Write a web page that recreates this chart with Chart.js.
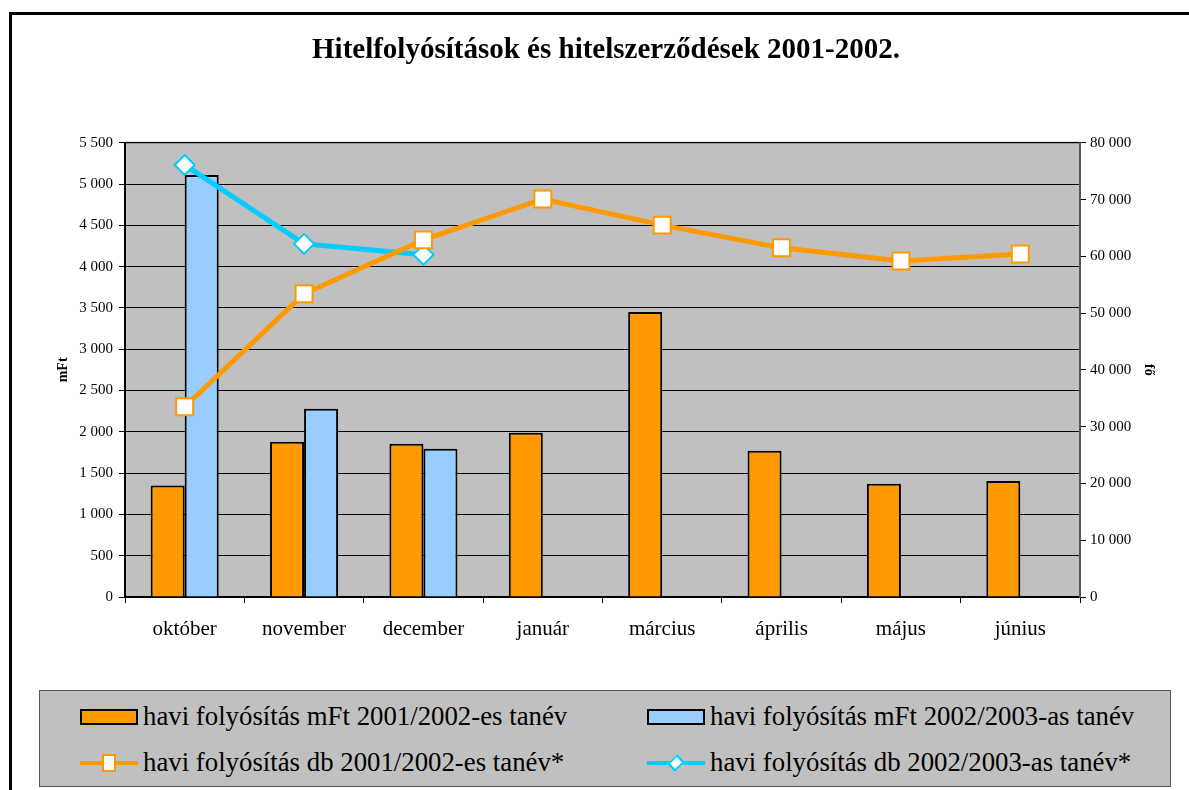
<!DOCTYPE html>
<html>
<head>
<meta charset="utf-8">
<script src="https://cdn.jsdelivr.net/npm/chart.js@4.4.0/dist/chart.umd.min.js"></script>
<style>
  body { margin: 0; background: #fff; overflow: hidden; }
  #wrap { position: relative; width: 1189px; height: 790px; overflow: hidden; }
  #frame { position: absolute; left: 9px; top: 12px; width: 1300px; height: 900px;
           border-left: 3px solid #000; border-top: 3px solid #000; }
  canvas { position: absolute; left: 0; top: 0; }
  #legend { position: absolute; left: 39px; top: 690px; width: 1130px; height: 95px;
            background: #c0c0c0; border: 1px solid #555;
            font-family: "Liberation Serif", "Times New Roman", serif; font-size: 26.8px; color: #000; }
  .item { position: absolute; display: flex; align-items: center; white-space: nowrap; }
  .sw { position: relative; width: 58px; height: 16px; margin-right: 5px; }
  .bar { box-sizing: border-box; width: 58px; height: 16px; border: 2px solid #000; }
  .ln { position: absolute; left: 0; top: 6px; width: 58px; height: 4px; }
  .mk { position: absolute; box-sizing: border-box; background: #fff; }
</style>
</head>
<body>
<div id="wrap">
  <div id="frame"></div>
  <canvas id="chart" width="1189" height="790"></canvas>
  <div id="legend"></div>
</div>
<script>
// Adatok
const months = ['október', 'november', 'december', 'január', 'március', 'április', 'május', 'június'];
const mft2001 = [1350, 1880, 1855, 1990, 3450, 1770, 1370, 1405];
const mft2002 = [5110, 2280, 1795, null, null, null, null, null];
const db2001 = [33500, 53400, 62900, 70100, 65500, 61500, 59200, 60400];
const db2002 = [76100, 62200, 60300, null, null, null, null, null];

const labels = {
  mft2001: 'havi folyósítás mFt 2001/2002-es tanév',
  mft2002: 'havi folyósítás mFt 2002/2003-as tanév',
  db2001: 'havi folyósítás db 2001/2002-es tanév*',
  db2002: 'havi folyósítás db 2002/2003-as tanév*'
};

const ORANGE = '#FF9900';
const BLUE = '#99CCFF';
const CYAN = '#00CCFF';
const SERIF = '"Liberation Serif", "Times New Roman", serif';

function fmt(v) {
  return String(v).replace(/\B(?=(\d{3})+(?!\d))/g, ' ');
}

// plot area background
const plotBg = {
  id: 'plotBg',
  beforeDraw(chart) {
    const { ctx, chartArea: a } = chart;
    ctx.save();
    ctx.fillStyle = '#c0c0c0';
    ctx.fillRect(a.left, a.top, a.right - a.left, a.bottom - a.top);
    ctx.strokeStyle = '#808080';
    ctx.lineWidth = 2;
    ctx.beginPath();
    ctx.moveTo(a.left, a.top);
    ctx.lineTo(a.right, a.top);
    ctx.lineTo(a.right, a.bottom);
    ctx.stroke();
    ctx.restore();
  }
};

new Chart(document.getElementById('chart'), {
  data: {
    labels: months,
    datasets: [
      {
        type: 'line', label: labels.db2001, data: db2001, yAxisID: 'y2', order: 0,
        borderColor: ORANGE, borderWidth: 5, pointStyle: 'rect', pointRadius: 12,
        pointBackgroundColor: '#fff', pointBorderColor: ORANGE, pointBorderWidth: 2,
        tension: 0
      },
      {
        type: 'line', label: labels.db2002, data: db2002, yAxisID: 'y2', order: 0,
        borderColor: CYAN, borderWidth: 5, pointStyle: 'rectRot', pointRadius: 10,
        pointBackgroundColor: '#fff', pointBorderColor: CYAN, pointBorderWidth: 2,
        tension: 0
      },
      {
        type: 'bar', label: labels.mft2001, data: mft2001, yAxisID: 'y', order: 1,
        backgroundColor: ORANGE, borderColor: '#000', borderWidth: 2,
        barPercentage: 1, categoryPercentage: 0.57
      },
      {
        type: 'bar', label: labels.mft2002, data: mft2002, yAxisID: 'y', order: 1,
        backgroundColor: BLUE, borderColor: '#000', borderWidth: 2,
        barPercentage: 1, categoryPercentage: 0.57
      }
    ]
  },
  options: {
    responsive: false,
    animation: false,
    layout: { padding: { left: 55, right: 32, top: 0, bottom: 143 } },
    plugins: {
      legend: { display: false },
      tooltip: { enabled: false },
      title: {
        display: true,
        text: 'Hitelfolyósítások és hitelszerződések 2001-2002.',
        color: '#000',
        font: { family: SERIF, size: 29, weight: 'bold' },
        padding: { top: 33, bottom: 75 }
      }
    },
    scales: {
      x: {
        offset: true,
        grid: { display: true, drawOnChartArea: false, offset: true, color: '#000', tickLength: 6 },
        border: { color: '#000', width: 2 },
        ticks: { color: '#000', font: { family: SERIF, size: 21 }, padding: 14, maxRotation: 0 },
        afterFit(s) { s.height = 50; }
      },
      y: {
        position: 'left',
        min: 0, max: 5500,
        ticks: { stepSize: 500, color: '#000', font: { family: SERIF, size: 15 }, padding: 6,
                 callback: v => fmt(v) },
        grid: { color: '#000', lineWidth: 1, tickLength: 6, drawOnChartArea: true },
        border: { color: '#000', width: 2 },
        title: { display: true, text: 'mFt', color: '#000',
                 font: { family: SERIF, size: 14, weight: 'bold' }, padding: 0 },
        afterFit(s) { s.width = 70; }
      },
      y2: {
        position: 'right',
        min: 0, max: 80000,
        ticks: { stepSize: 10000, color: '#000', font: { family: SERIF, size: 15 }, padding: 4,
                 callback: v => fmt(v) },
        grid: { drawOnChartArea: false, color: '#000', tickLength: 6 },
        border: { color: '#555', width: 2 },
        title: { display: true, text: 'fő', color: '#000',
                 font: { family: SERIF, size: 14, weight: 'bold' }, padding: 0 },
        afterFit(s) { s.width = 77; }
      }
    }
  },
  plugins: [plotBg]
});

// Jelmagyarázat
const legendItems = [
  { kind: 'bar', color: ORANGE, text: labels.mft2001, x: 40, y: 25 },
  { kind: 'bar', color: BLUE, text: labels.mft2002, x: 607, y: 25 },
  { kind: 'line', color: ORANGE, marker: 'rect', text: labels.db2001, x: 40, y: 71 },
  { kind: 'line', color: CYAN, marker: 'diamond', text: labels.db2002, x: 607, y: 71 }
];

const legendEl = document.getElementById('legend');
legendItems.forEach(it => {
  const item = document.createElement('div');
  item.className = 'item';
  item.style.left = it.x + 'px';
  item.style.top = (it.y - 15) + 'px';
  const sw = document.createElement('div');
  sw.className = 'sw';
  if (it.kind === 'bar') {
    const b = document.createElement('div');
    b.className = 'bar';
    b.style.background = it.color;
    sw.appendChild(b);
  } else {
    const l = document.createElement('div');
    l.className = 'ln';
    l.style.background = it.color;
    sw.appendChild(l);
    const m = document.createElement('div');
    m.className = 'mk';
    m.style.border = '2px solid ' + it.color;
    if (it.marker === 'rect') {
      m.style.width = '14px'; m.style.height = '18px';
      m.style.left = '22px'; m.style.top = '-1px';
    } else {
      m.style.width = '12px'; m.style.height = '12px';
      m.style.left = '23px'; m.style.top = '2px';
      m.style.transform = 'rotate(45deg) scale(0.9, 1.2)';
    }
    sw.appendChild(m);
  }
  const t = document.createElement('span');
  t.textContent = it.text;
  item.appendChild(sw);
  item.appendChild(t);
  legendEl.appendChild(item);
});
</script>
</body>
</html>
